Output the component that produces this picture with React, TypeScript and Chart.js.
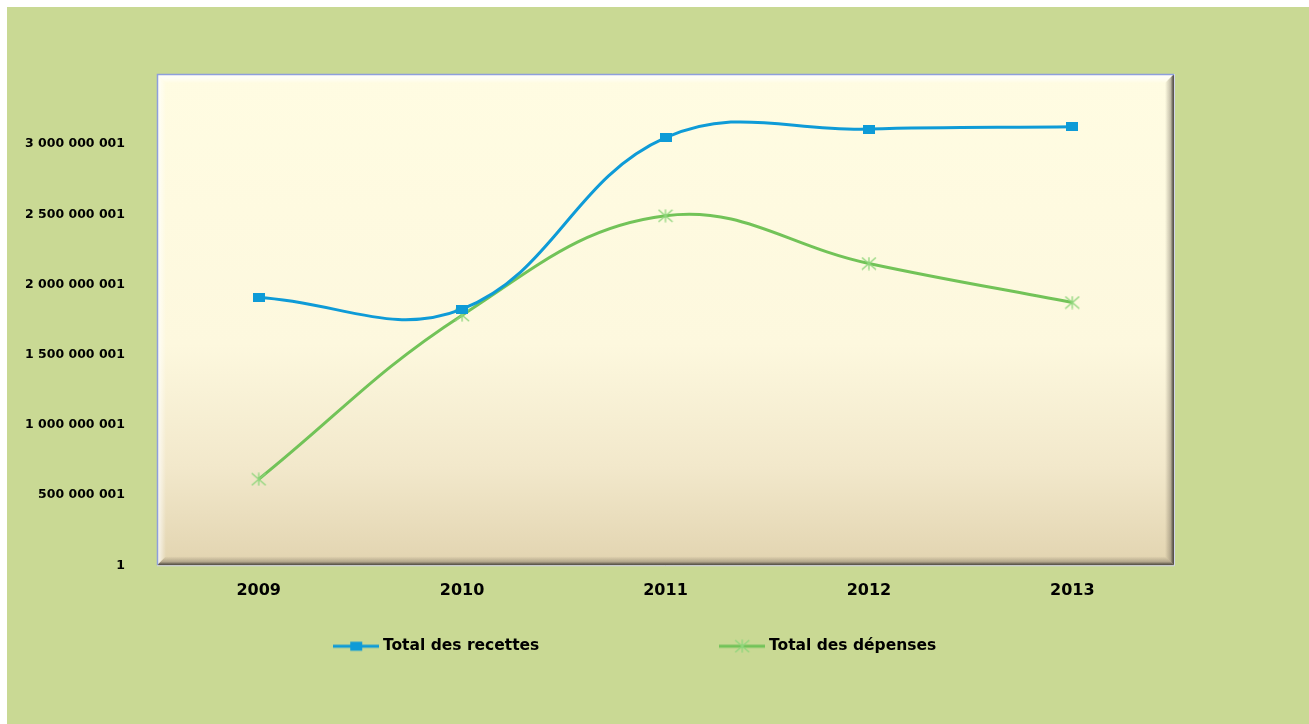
import React, { useEffect, useRef } from "react";
import { Chart, registerables } from "chart.js";

Chart.register(...registerables);

// ---- data ----
const YEARS = ["2009", "2010", "2011", "2012", "2013"];
const RECETTES = [1908000000, 1825000000, 3046000000, 3108000000, 3124000000];
const DEPENSES = [613000000, 1782000000, 2490000000, 2150000000, 1872000000];
const Y_TICKS = [1, 500000001, 1000000001, 1500000001, 2000000001, 2500000001, 3000000001];
const Y_MIN = 1;
const Y_MAX = 3500000001;
const SERIES_LABELS = ["Total des recettes", "Total des dépenses"];

// ---- style ----
const BLUE = "#0E9BD7";
const GREEN = "#72C358";
const STAR = "#8FD67C";
const PAGE_GREEN = "#C9D994";
const FONT = '"DejaVu Sans", sans-serif';
const LEGEND_SIZE = 15.5;

const fmt = (v: number) =>
  Math.round(v).toString().replace(/\B(?=(\d{3})+(?!\d))/g, " ");

function makeCanvas(w: number, h: number, draw: (ctx: CanvasRenderingContext2D) => void) {
  const c = document.createElement("canvas");
  c.width = w;
  c.height = h;
  const ctx = c.getContext("2d")!;
  draw(ctx);
  return c;
}

const drawSquare = (ctx: CanvasRenderingContext2D, cx: number, cy: number) => {
  ctx.fillStyle = BLUE;
  ctx.fillRect(cx - 6, cy - 4.5, 12, 9);
};
const drawStar = (ctx: CanvasRenderingContext2D, cx: number, cy: number) => {
  ctx.strokeStyle = STAR;
  ctx.lineWidth = 1.3;
  ctx.beginPath();
  ctx.moveTo(cx - 7, cy - 6);
  ctx.lineTo(cx + 7, cy + 6);
  ctx.moveTo(cx + 7, cy - 6);
  ctx.lineTo(cx - 7, cy + 6);
  ctx.moveTo(cx, cy - 6.5);
  ctx.lineTo(cx, cy + 6.5);
  ctx.stroke();
};

const plotFrame = {
  id: "plotFrame",
  beforeDraw(chart: any) {
    const { ctx, chartArea } = chart;
    const { left: l, top: t, right: r, bottom: b } = chartArea;
    const w = 9;
    ctx.save();
    const g = ctx.createLinearGradient(0, t, 0, b);
    g.addColorStop(0, "#FFFCE2");
    g.addColorStop(0.55, "#FDF8DE");
    g.addColorStop(0.8, "#F2E8CB");
    g.addColorStop(1, "#E2D4B0");
    ctx.fillStyle = g;
    ctx.fillRect(l, t, r - l, b - t);

    // top bevel (light)
    let gg = ctx.createLinearGradient(0, t, 0, t + w);
    gg.addColorStop(0, "rgba(255,255,255,0.95)");
    gg.addColorStop(0.6, "rgba(255,255,255,0.5)");
    gg.addColorStop(1, "rgba(255,255,255,0)");
    ctx.fillStyle = gg;
    ctx.beginPath();
    ctx.moveTo(l, t);
    ctx.lineTo(r, t);
    ctx.lineTo(r - w, t + w);
    ctx.lineTo(l + w, t + w);
    ctx.closePath();
    ctx.fill();

    // left bevel (light)
    gg = ctx.createLinearGradient(l, 0, l + w, 0);
    gg.addColorStop(0, "rgba(255,255,255,0.85)");
    gg.addColorStop(1, "rgba(255,255,255,0)");
    ctx.fillStyle = gg;
    ctx.beginPath();
    ctx.moveTo(l, t);
    ctx.lineTo(l + w, t + w);
    ctx.lineTo(l + w, b - w);
    ctx.lineTo(l, b);
    ctx.closePath();
    ctx.fill();

    // right bevel (dark)
    gg = ctx.createLinearGradient(r - w, 0, r, 0);
    gg.addColorStop(0, "rgba(90,80,65,0)");
    gg.addColorStop(0.6, "rgba(90,82,70,0.35)");
    gg.addColorStop(0.85, "rgba(75,70,62,0.8)");
    gg.addColorStop(1, "rgba(70,66,60,0.95)");
    ctx.fillStyle = gg;
    ctx.beginPath();
    ctx.moveTo(r, t);
    ctx.lineTo(r, b);
    ctx.lineTo(r - w, b - w);
    ctx.lineTo(r - w, t + w);
    ctx.closePath();
    ctx.fill();

    // bottom bevel (dark)
    gg = ctx.createLinearGradient(0, b - w, 0, b);
    gg.addColorStop(0, "rgba(90,80,65,0)");
    gg.addColorStop(0.6, "rgba(90,82,70,0.35)");
    gg.addColorStop(0.85, "rgba(75,70,62,0.8)");
    gg.addColorStop(1, "rgba(70,66,60,0.95)");
    ctx.fillStyle = gg;
    ctx.beginPath();
    ctx.moveTo(l, b);
    ctx.lineTo(r, b);
    ctx.lineTo(r - w, b - w);
    ctx.lineTo(l + w, b - w);
    ctx.closePath();
    ctx.fill();

    // outer border
    ctx.lineWidth = 1.5;
    ctx.strokeStyle = "#8E9FDC";
    ctx.beginPath();
    ctx.moveTo(l + 0.5, b);
    ctx.lineTo(l + 0.5, t + 0.5);
    ctx.lineTo(r, t + 0.5);
    ctx.stroke();
    ctx.lineWidth = 1;
    ctx.strokeStyle = "#D2D5E8";
    ctx.beginPath();
    ctx.moveTo(r + 0.5, t);
    ctx.lineTo(r + 0.5, b + 0.5);
    ctx.lineTo(l, b + 0.5);
    ctx.stroke();
    ctx.restore();
  },
};

export default function App() {
  const ref = useRef<HTMLCanvasElement | null>(null);

  useEffect(() => {
    if (!ref.current) return;
    const squareMarker = makeCanvas(12, 9, (c) => drawSquare(c, 6, 4.5));
    const starMarker = makeCanvas(16, 14, (c) => drawStar(c, 8, 7));
    const legendBlue = makeCanvas(46, 14, (c) => {
      c.strokeStyle = BLUE;
      c.lineWidth = 3;
      c.beginPath();
      c.moveTo(0, 7);
      c.lineTo(46, 7);
      c.stroke();
      drawSquare(c, 23, 7);
    });
    const legendGreen = makeCanvas(46, 14, (c) => {
      c.strokeStyle = GREEN;
      c.lineWidth = 3;
      c.beginPath();
      c.moveTo(0, 7);
      c.lineTo(46, 7);
      c.stroke();
      drawStar(c, 23, 7);
    });
    const legendImgs = [legendBlue, legendGreen];
    const legendTargets = [318, 385];

    const chart = new Chart(ref.current, {
      type: "line",
      data: {
        labels: YEARS,
        datasets: [
          {
            label: SERIES_LABELS[0],
            data: RECETTES,
            borderColor: BLUE,
            backgroundColor: BLUE,
            borderWidth: 3,
            tension: 0.4,
            pointStyle: squareMarker as any,
            pointRadius: 6,
          },
          {
            label: SERIES_LABELS[1],
            data: DEPENSES,
            borderColor: GREEN,
            backgroundColor: GREEN,
            borderWidth: 3,
            tension: 0.4,
            pointStyle: starMarker as any,
            pointRadius: 6,
          },
        ],
      },
      options: {
        responsive: false,
        animation: false,
        layout: { padding: { top: 67, bottom: 60, left: 0, right: 135 } },
        scales: {
          x: {
            type: "category",
            offset: true,
            grid: { display: false, drawTicks: false },
            border: { display: false },
            ticks: {
              padding: 16,
              color: "#000",
              maxRotation: 0,
              font: { family: FONT, weight: "bold", size: 16 },
            },
          },
          y: {
            type: "linear",
            min: Y_MIN,
            max: Y_MAX,
            grid: { display: false, drawTicks: false },
            border: { display: false },
            afterBuildTicks: (s: any) => {
              s.ticks = Y_TICKS.map((v) => ({ value: v }));
            },
            afterFit: (s: any) => {
              s.width = 150;
            },
            ticks: {
              padding: 32,
              color: "#000",
              font: { family: FONT, weight: "bold", size: 12.5 },
              callback: (v: any) => fmt(Number(v)),
            },
          },
        },
        plugins: {
          tooltip: { enabled: false },
          legend: {
            position: "bottom",
            align: "end",
            labels: {
              usePointStyle: true,
              pointStyleWidth: 38,
              padding: 22,
              color: "#000",
              font: { family: FONT, weight: "bold", size: LEGEND_SIZE },
              generateLabels: (ch: any) => {
                const ctx = ch.ctx as CanvasRenderingContext2D;
                ctx.save();
                ctx.font = `bold ${LEGEND_SIZE}px ${FONT}`;
                const items = ch.data.datasets.map((ds: any, i: number) => {
                  let text = ds.label as string;
                  const sp = ctx.measureText(" ").width;
                  while (ctx.measureText(text).width + sp / 2 < legendTargets[i]) text += " ";
                  return {
                    text,
                    fillStyle: ds.borderColor,
                    strokeStyle: ds.borderColor,
                    lineWidth: 0,
                    pointStyle: legendImgs[i],
                    hidden: false,
                    datasetIndex: i,
                    fontColor: "#000",
                  };
                });
                ctx.restore();
                return items;
              },
            },
          },
        },
      },
      plugins: [plotFrame],
    });
    return () => chart.destroy();
  }, []);

  return (
    <div
      style={{
        position: "absolute",
        left: 7,
        top: 7,
        width: 1302,
        height: 717,
        background: PAGE_GREEN,
      }}
    >
      <canvas ref={ref} width={1302} height={717} style={{ display: "block" }} />
    </div>
  );
}
